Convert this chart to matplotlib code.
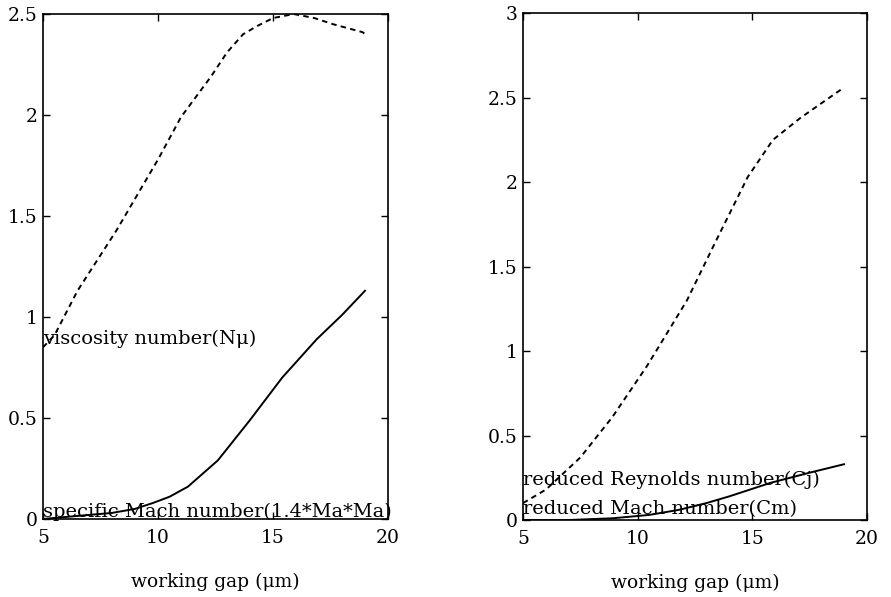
import matplotlib
matplotlib.use("Agg")
import matplotlib.pyplot as plt

plt.rcParams['font.family'] = ['DejaVu Serif']

# Left panel
gap_l_visc = [5.0, 5.5, 6.5, 8.2, 10.0, 11.0, 12.3, 13.0, 13.7, 14.3, 15.0, 15.9, 16.8, 17.6, 18.9, 19.0]
visc_number = [0.85, 0.91, 1.13, 1.43, 1.78, 1.99, 2.19, 2.31, 2.40, 2.44, 2.48, 2.50, 2.48, 2.45, 2.41, 2.40]
gap_l_mach = [5.0, 6.0, 7.0, 8.0, 9.0, 9.8, 10.5, 11.3, 12.6, 14.0, 15.4, 16.9, 18.0, 19.0]
spec_mach = [0.0, 0.01, 0.02, 0.03, 0.05, 0.08, 0.11, 0.16, 0.29, 0.49, 0.70, 0.89, 1.01, 1.13]

# Right panel
gap_r_rey = [5.0, 6.0, 7.5, 8.9, 10.4, 11.3, 12.15, 13.3, 14.8, 15.9, 17.1, 19.0]
red_reynolds = [0.10, 0.18, 0.37, 0.61, 0.91, 1.11, 1.30, 1.62, 2.03, 2.25, 2.38, 2.56]
gap_r_mach = [5.0, 7.0, 8.9, 10.5, 11.8, 13.0, 14.0, 15.8, 17.5, 19.0]
red_mach = [0.0, 0.0, 0.01, 0.03, 0.06, 0.10, 0.14, 0.22, 0.28, 0.33]

xticks = [5, 10, 15, 20]
yticks_l = [0, 0.5, 1, 1.5, 2, 2.5]
yticks_r = [0, 0.5, 1, 1.5, 2, 2.5, 3]
ytick_labels_l = ['0', '0.5', '1', '1.5', '2', '2.5']
ytick_labels_r = ['0', '0.5', '1', '1.5', '2', '2.5', '3']

fig = plt.figure(figsize=(8.91, 5.97), dpi=100)
ax1 = fig.add_axes([0.0483, 0.1307, 0.3872, 0.8458])
ax2 = fig.add_axes([0.587, 0.129, 0.386, 0.849])

for ax in (ax1, ax2):
    ax.set_xlim(5, 20)
    ax.set_xticks(xticks)
    ax.set_xticklabels([str(t) for t in xticks])
    ax.tick_params(direction='in', top=True, right=True, length=5, width=1,
                   labelsize=13.5, colors='black')
    ax.tick_params(axis='x', pad=7)
    ax.tick_params(axis='y', pad=4)
    for s in ax.spines.values():
        s.set_linewidth(1.2)
    ax.set_xlabel('working gap (\u03bcm)', fontsize=13.5, labelpad=19)

ax1.plot(gap_l_visc, visc_number, color='black', linestyle=(0, (2.8, 2.2)), linewidth=1.4)
ax1.plot(gap_l_mach, spec_mach, color='black', linestyle='-', linewidth=1.4)
ax1.set_ylim(0, 2.5)
ax1.set_yticks(yticks_l)
ax1.set_yticklabels(ytick_labels_l)
ax1.text(5.0, 0.89, 'viscosity number(N\u03bc)', fontsize=14, va='center', ha='left')
ax1.text(5.0, 0.035, 'specific Mach number(1.4*Ma*Ma)', fontsize=14, va='center', ha='left')

ax2.plot(gap_r_rey, red_reynolds, color='black', linestyle=(0, (2.8, 2.2)), linewidth=1.4)
ax2.plot(gap_r_mach, red_mach, color='black', linestyle='-', linewidth=1.4)
ax2.set_ylim(0, 3)
ax2.set_yticks(yticks_r)
ax2.set_yticklabels(ytick_labels_r)
ax2.text(5.0, 0.24, 'reduced Reynolds number(Cj)', fontsize=14, va='center', ha='left')
ax2.text(5.0, 0.065, 'reduced Mach number(Cm)', fontsize=14, va='center', ha='left')

fig.savefig('out.png', dpi=100)
